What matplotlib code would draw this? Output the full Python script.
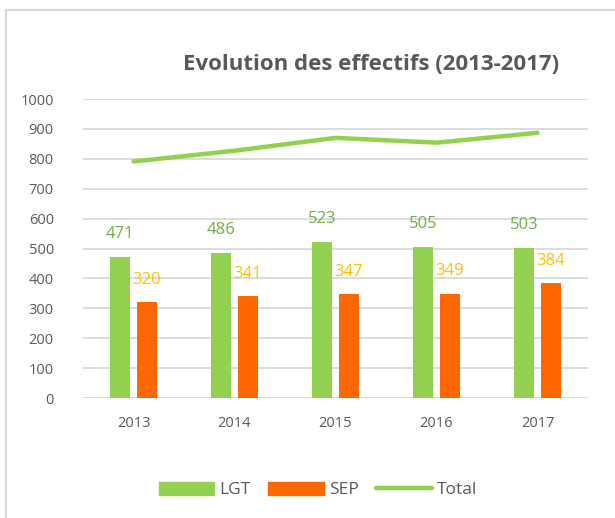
import matplotlib.pyplot as plt
from matplotlib.lines import Line2D
from matplotlib.patches import Patch
import numpy as np

years = ['2013', '2014', '2015', '2016', '2017']
lgt = [471, 486, 523, 505, 503]
sep = [320, 341, 347, 349, 384]
total = [a + b for a, b in zip(lgt, sep)]

green = '#92D050'
orange = '#FF6600'
gray = '#595959'
plt.rcParams['font.family'] = ['Open Sans', 'DejaVu Sans']

fig = plt.figure(figsize=(6.15, 5.18), dpi=100)
ax = fig.add_axes([83 / 615, 1 - 398 / 518, 505 / 615, 299 / 518])

x = np.arange(len(years))
w = 0.205
g = 0.06
ax.bar(x - w / 2 - g / 2, lgt, w, color=green, zorder=3)
ax.bar(x + w / 2 + g / 2, sep, w, color=orange, zorder=3)
ax.plot(x, total, color=green, lw=3.2, solid_capstyle='round',
        solid_joinstyle='round', zorder=4)

for i in range(len(years)):
    ax.annotate(str(lgt[i]), (x[i] - w / 2 - g / 2, lgt[i]), xytext=(0, 16.5),
                textcoords='offset points', ha='center', va='center',
                color='#70AD47', fontsize=12)
    ax.annotate(str(sep[i]), (x[i] + w / 2 + g / 2, sep[i]), xytext=(0, 16),
                textcoords='offset points', ha='center', va='center',
                color='#FFC000', fontsize=12)

ax.set_xlim(-0.5, 4.5)
ax.set_ylim(0, 1000)
ax.set_yticks(range(0, 1001, 100))
ax.set_xticks(x)
ax.set_xticklabels(years)
ax.tick_params(length=0, colors=gray, labelsize=10.5)
ax.tick_params(axis='y', pad=21)
ax.tick_params(axis='x', pad=13)
ax.grid(axis='y', color='#D9D9D9', lw=1.3, zorder=0)
for s in ax.spines.values():
    s.set_visible(False)

fig.text(371 / 615, 1 - 64 / 518, 'Evolution des effectifs (2013-2017)',
         ha='center', va='center', fontsize=16, fontweight='bold', color=gray)

# chart frame
fig.add_artist(Line2D([6 / 615, 1], [1 - 10 / 518] * 2, color='#D9D9D9', lw=1.5))
fig.add_artist(Line2D([6 / 615] * 2, [0, 1 - 10 / 518], color='#D9D9D9', lw=1.5))

handles = [Patch(color=green), Patch(color=orange),
           Line2D([], [], color=green, lw=3.2, solid_capstyle='round')]
fig.legend(handles, ['LGT', 'SEP', 'Total'], loc='center',
           bbox_to_anchor=(318 / 615, 1 - 490 / 518), ncol=3, frameon=False,
           fontsize=12.5, labelcolor=gray, handlelength=3.2, handleheight=0.75,
           columnspacing=1.0, handletextpad=0.3)

fig.savefig('out.png', dpi=100)
